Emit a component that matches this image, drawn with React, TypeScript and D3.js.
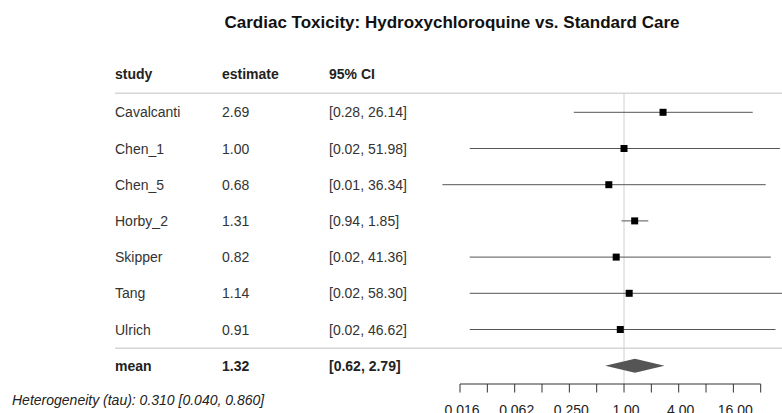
import React from 'react';
import * as d3 from 'd3';

// study rows
const studies = ['Cavalcanti', 'Chen_1', 'Chen_5', 'Horby_2', 'Skipper', 'Tang', 'Ulrich'];
const estimates = [2.69, 1.00, 0.68, 1.31, 0.82, 1.14, 0.91];
const lowers = [0.28, 0.02, 0.01, 0.94, 0.02, 0.02, 0.02];
const uppers = [26.14, 51.98, 36.34, 1.85, 41.36, 58.30, 46.62];

// pooled
const meanEst = 1.32;
const meanLower = 0.62;
const meanUpper = 2.79;

const tickValues = [1 / 64, 1 / 32, 1 / 16, 1 / 8, 1 / 4, 1 / 2, 1, 2, 4, 8, 16, 32];
const tickLabels = ['0.016', '', '0.062', '', '0.250', '', '1.00', '', '4.00', '', '16.00', ''];

const title = 'Cardiac Toxicity: Hydroxychloroquine vs. Standard Care';
const hetText = 'Heterogeneity (tau): 0.310 [0.040, 0.860]';

const W = 782, H = 413;

export default function App() {
  const x = d3.scaleLog().base(2).domain([1 / 64, 32]).range([460, 760.7]);
  const y = d3.scalePoint<string>()
    .domain([...studies, 'mean'])
    .range([112.3, 365.7]);

  const font = 'Liberation Sans, Arial, sans-serif';
  const fmt = (v: number) => v.toFixed(2);
  const ci = (a: number, b: number) => `[${fmt(a)}, ${fmt(b)}]`;

  const colStudy = 115, colEst = 222, colCi = 329;
  const lineTop = 93.3, lineSep = 348.3, axisY = 384;
  const ym = y('mean') as number;

  return (
    <div style={{ position: 'absolute', left: 0, top: 0 }}>
      <svg width={W} height={H} style={{ display: 'block', overflow: 'hidden' }} fontFamily={font}>
        <rect width={W} height={H} fill="#fff" />
        <text x={452} y={27.5} textAnchor="middle" fontSize={17} fontWeight="bold" fill="#111">{title}</text>

        {/* header */}
        <g fontSize={14} fontWeight="bold" fill="#222">
          <text x={colStudy} y={79}>study</text>
          <text x={colEst} y={79}>estimate</text>
          <text x={colCi} y={79}>95% CI</text>
        </g>
        <line x1={colStudy} x2={W + 10} y1={lineTop} y2={lineTop} stroke="#d6d6d6" strokeWidth={1.5} />
        <line x1={colStudy} x2={W + 10} y1={lineSep} y2={lineSep} stroke="#d6d6d6" strokeWidth={1.5} />

        {/* reference line at 1 */}
        <line x1={x(1)} x2={x(1)} y1={lineTop} y2={axisY} stroke="#d0d0d0" strokeWidth={1} />

        {/* study rows */}
        {studies.map((s, i) => {
          const yc = y(s) as number;
          return (
            <g key={s}>
              <text x={colStudy} y={yc + 5} fontSize={14} fill="#333">{s}</text>
              <text x={colEst} y={yc + 5} fontSize={14} fill="#333">{fmt(estimates[i])}</text>
              <text x={colCi} y={yc + 5} fontSize={14} fill="#333">{ci(lowers[i], uppers[i])}</text>
              <line x1={x(lowers[i])} x2={x(uppers[i])} y1={yc} y2={yc} stroke="#555" strokeWidth={1} />
              <rect x={x(estimates[i]) - 3.5} y={yc - 3.5} width={7} height={7} fill="#000" />
            </g>
          );
        })}

        {/* pooled row */}
        <g fontSize={14} fontWeight="bold" fill="#222">
          <text x={colStudy} y={ym + 5}>mean</text>
          <text x={colEst} y={ym + 5}>{fmt(meanEst)}</text>
          <text x={colCi} y={ym + 5}>{ci(meanLower, meanUpper)}</text>
        </g>
        <path
          d={`M${x(meanLower)},${ym} L${x(meanEst)},${ym - 7} L${x(meanUpper)},${ym} L${x(meanEst)},${ym + 7} Z`}
          fill="#555"
        />

        {/* axis */}
        <line x1={x(1 / 64)} x2={x(32)} y1={axisY} y2={axisY} stroke="#333" strokeWidth={1} />
        {tickValues.map((t, i) => (
          <g key={i}>
            <line x1={x(t)} x2={x(t)} y1={axisY} y2={axisY + 8.5} stroke="#333" strokeWidth={1} />
            {tickLabels[i] && (
              <text x={x(t) + 2} y={414.5} textAnchor="middle" fontSize={14} fill="#222">{tickLabels[i]}</text>
            )}
          </g>
        ))}

        <text x={12} y={405} fontSize={14} fontStyle="italic" fill="#222">{hetText}</text>
      </svg>
    </div>
  );
}
